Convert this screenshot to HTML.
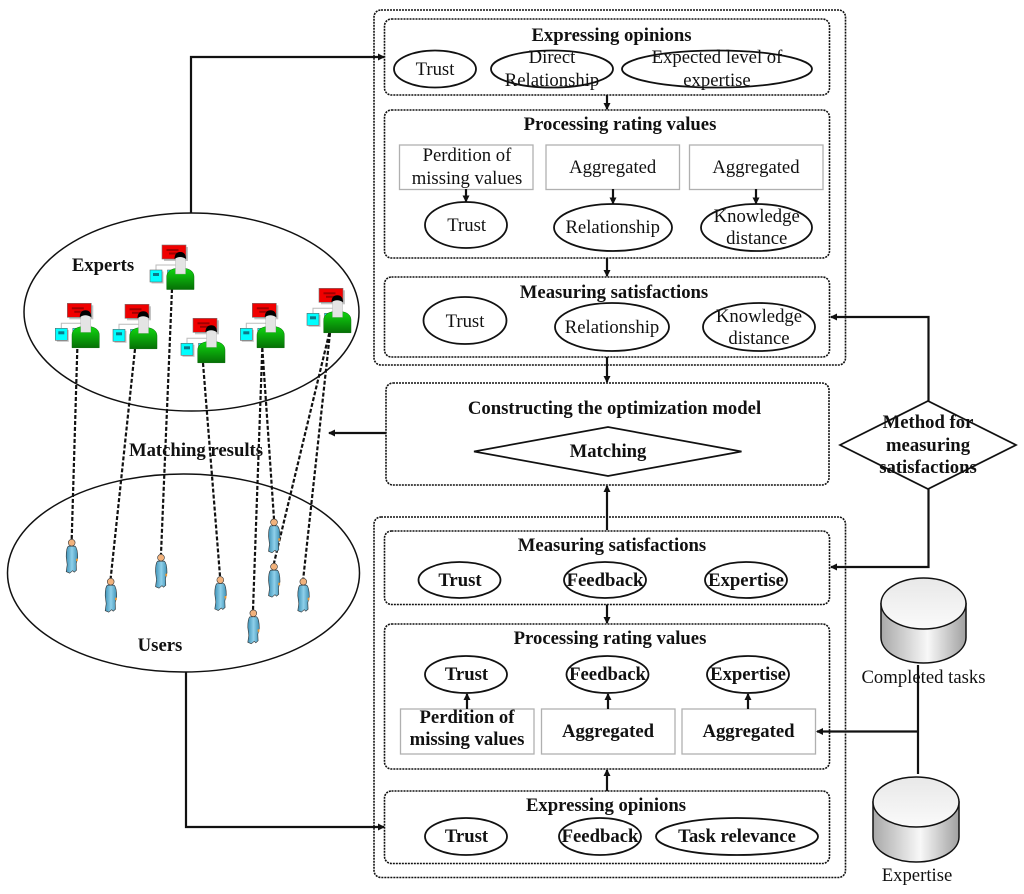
<!DOCTYPE html>
<html><head><meta charset="utf-8"><style>
html,body{margin:0;padding:0;background:#fff}
svg{display:block}
text{font-family:"Liberation Serif",serif;font-size:18.7px;text-anchor:middle;fill:#111}
.b text,text.b{font-weight:bold}
.d{fill:none;stroke:#111;stroke-width:1.6;stroke-dasharray:2 1}
.e{fill:#fff;stroke:#111;stroke-width:1.8}
.r{fill:#fff;stroke:#b0b0b0;stroke-width:1.3}
.l{fill:none;stroke:#111;stroke-width:2.2}
.dash{fill:none;stroke:#111;stroke-width:2.2;stroke-dasharray:4 2}
</style></head><body>
<svg width="1024" height="894" viewBox="0 0 1024 894" xmlns="http://www.w3.org/2000/svg">
<defs>
<marker id="a" markerWidth="8" markerHeight="8" refX="6" refY="3.5" orient="auto" markerUnits="userSpaceOnUse"><path d="M0 0L7 3.5L0 7Z" fill="#111"/></marker>
<linearGradient id="g" x1="0" y1="0" x2="0" y2="1"><stop offset="0" stop-color="#10d810"/><stop offset="1" stop-color="#067006"/></linearGradient>
<linearGradient id="cy" x1="0" y1="0" x2="1" y2="0"><stop offset="0" stop-color="#a8a8a8"/><stop offset=".55" stop-color="#f8f8f8"/><stop offset="1" stop-color="#a0a0a0"/></linearGradient>
<linearGradient id="ct" x1="0" y1="0" x2="0" y2="1"><stop offset="0" stop-color="#e8e8e8"/><stop offset="1" stop-color="#fafafa"/></linearGradient>
<linearGradient id="u" x1="0" y1="0" x2="1" y2="0"><stop offset="0" stop-color="#3f93b8"/><stop offset=".5" stop-color="#8fd0ea"/><stop offset="1" stop-color="#3f93b8"/></linearGradient>
<g id="ex">
<rect x="2" y="2" width="24" height="14" fill="#c4c4c4"/>
<rect x="0" y="0" width="24" height="14" fill="#f00000" stroke="#777" stroke-width=".6"/>
<rect x="4.500" y="4" width="12" height="2" fill="#a00000"/><rect x="7" y="7.500" width="10" height="2" fill="#a00000"/>
<path d="M-6 25V20H14" fill="none" stroke="#bbb" stroke-width="1"/>
<rect x="-10.500" y="26.500" width="12" height="12" fill="#c4c4c4"/>
<rect x="-12" y="25" width="12" height="12" fill="#00ffff" stroke="#666" stroke-width=".6"/><rect x="-9" y="28" width="6" height="3" fill="#0a7a8a"/>
<rect x="5.500" y="25" width="8" height="12" fill="#00ffff" stroke="#666" stroke-width=".6"/>
<path d="M4.700 44.500V32C4.700 26 10 23 18.500 23S32 26 32 32V44.500Z" fill="url(#g)" stroke="#0a6a0a" stroke-width=".5"/>
<rect x="13.500" y="11" width="10" height="18" fill="#e4e4e4" stroke="#aaa" stroke-width=".4"/>
<path d="M12.500 14C12.500 9 15 7 18.300 7S24 9 24 14Q18 10 12.500 14Z" fill="#000"/>
</g>
<g id="us">
<path d="M-3.500 3.500C-5 5-5.500 8-5.500 14L-4.500 22L-5.500 29L-2 30.500L1 28L2.500 29.500L4.800 27.500L4.500 21L6 15C6 8 5 5 3.500 3.500Z" fill="url(#u)" stroke="#333" stroke-width=".6"/>
<circle cx="0" cy="0" r="3.400" fill="#f2b27c" stroke="#333" stroke-width=".6"/>
<rect x="4.300" y="16" width="1.800" height="2.500" fill="#ee9933"/>
</g>
</defs>

<!-- big ellipses -->
<ellipse cx="191.500" cy="312" rx="167.500" ry="99" fill="#fff" stroke="#111" stroke-width="1.5"/>
<ellipse cx="183.500" cy="573" rx="176" ry="99" fill="#fff" stroke="#111" stroke-width="1.5"/>

<!-- dashed links -->
<path class="dash" d="M77.300 349L71.700 539M135 349L110.700 578M172 289L161 554M203 363L220 576M262.300 348L253 610M262.300 348L274 519M329.300 333L274 563M330 333L303.300 578"/>

<!-- experts -->
<use href="#ex" x="162" y="245"/><use href="#ex" x="67.300" y="303.300"/><use href="#ex" x="125" y="304.300"/><use href="#ex" x="193" y="318.300"/><use href="#ex" x="252.300" y="303.300"/><use href="#ex" x="319" y="288.300"/>
<!-- users -->
<use href="#us" x="71.700" y="542.700"/><use href="#us" x="110.700" y="581.700"/><use href="#us" x="161" y="557.700"/><use href="#us" x="220.300" y="580"/><use href="#us" x="253.300" y="613.300"/><use href="#us" x="274" y="522.300"/><use href="#us" x="274" y="566.700"/><use href="#us" x="303.300" y="581.700"/>

<g class="b">
<text x="103" y="271">Experts</text>
<text x="196" y="456">Matching results</text>
<text x="160" y="651">Users</text>
</g>

<!-- outer connectors -->
<path class="l" d="M191 213V57H384" marker-end="url(#a)"/>
<path class="l" d="M386 433H329" marker-end="url(#a)"/>
<path class="l" d="M186 672V827H384" marker-end="url(#a)"/>

<!-- containers -->
<rect class="d" x="374" y="10" width="471.500" height="355" rx="7"/>
<rect class="d" x="374" y="517" width="471.500" height="360.500" rx="7"/>
<rect class="d" x="384.500" y="19" width="445" height="76" rx="7"/>
<rect class="d" x="384.500" y="110" width="445" height="148" rx="7"/>
<rect class="d" x="384.500" y="277" width="445" height="80" rx="7"/>
<rect class="d" x="386" y="383" width="443" height="102" rx="7"/>
<rect class="d" x="384.500" y="531" width="445" height="73.500" rx="7"/>
<rect class="d" x="384.500" y="624" width="445" height="145" rx="7"/>
<rect class="d" x="384.500" y="791" width="445" height="72.500" rx="7"/>

<!-- top section -->
<text class="b" x="611.500" y="41">Expressing opinions</text>
<ellipse class="e" cx="435" cy="69" rx="41" ry="18.500"/><text x="435" y="75">Trust</text>
<ellipse class="e" cx="552" cy="69" rx="61" ry="18.500"/><text x="552" y="63">Direct</text><text x="552" y="86">Relationship</text>
<ellipse class="e" cx="717" cy="69" rx="95" ry="18.500"/><text x="717" y="63">Expected level of</text><text x="717" y="86">expertise</text>

<path class="l" d="M607 95V109" marker-end="url(#a)"/>
<text class="b" x="620" y="130">Processing rating values</text>
<rect class="r" x="399.500" y="145" width="133.500" height="44.500"/><rect class="r" x="546" y="145" width="133.500" height="44.500"/><rect class="r" x="689.500" y="145" width="133.500" height="44.500"/>
<text x="467" y="161">Perdition of</text><text x="467" y="184">missing values</text>
<text x="612.700" y="173">Aggregated</text><text x="756" y="173">Aggregated</text>
<path class="l" d="M466 189V201.500" marker-end="url(#a)"/><path class="l" d="M613 189V203.500" marker-end="url(#a)"/><path class="l" d="M756 189V203.500" marker-end="url(#a)"/>
<ellipse class="e" cx="466" cy="225" rx="41" ry="23"/><text x="466.700" y="231">Trust</text>
<ellipse class="e" cx="613" cy="227.500" rx="59" ry="23.500"/><text x="612.700" y="233">Relationship</text>
<ellipse class="e" cx="756.500" cy="227.500" rx="55.500" ry="23.500"/><text x="756.700" y="222">Knowledge</text><text x="756.700" y="244">distance</text>

<path class="l" d="M607 258V276" marker-end="url(#a)"/>
<text class="b" x="614" y="298">Measuring satisfactions</text>
<ellipse class="e" cx="465" cy="320.500" rx="41.500" ry="23.500"/><text x="465" y="327">Trust</text>
<ellipse class="e" cx="612" cy="327" rx="57" ry="24"/><text x="612" y="333">Relationship</text>
<ellipse class="e" cx="759" cy="327" rx="56" ry="24"/><text x="759" y="322">Knowledge</text><text x="759" y="344">distance</text>

<path class="l" d="M607 357V382" marker-end="url(#a)"/>
<!-- middle -->
<text class="b" x="614.500" y="414">Constructing the optimization model</text>
<polygon points="474,451.500 608,427 741.500,451.500 608,476" fill="#fff" stroke="#111" stroke-width="1.7"/>
<text class="b" x="608" y="457">Matching</text>
<path class="l" d="M607 530V486" marker-end="url(#a)"/>

<!-- method diamond -->
<path class="l" d="M928.500 401V317H831" marker-end="url(#a)"/>
<path class="l" d="M928.500 489V567H831" marker-end="url(#a)"/>
<polygon points="840,445 928,401 1016,445 928,489" fill="#fff" stroke="#111" stroke-width="1.7"/>
<g class="b"><text x="928" y="428">Method for</text><text x="928" y="451">measuring</text><text x="928" y="473">satisfactions</text></g>

<!-- lower section -->
<g class="b">
<text x="612" y="551">Measuring satisfactions</text>
<ellipse class="e" cx="459.500" cy="580" rx="41" ry="18"/><text x="460" y="586">Trust</text>
<ellipse class="e" cx="605" cy="580" rx="41" ry="18"/><text x="605" y="586">Feedback</text>
<ellipse class="e" cx="746" cy="580" rx="41" ry="18"/><text x="746" y="586">Expertise</text>

<path class="l" d="M607 604.500V623" marker-end="url(#a)"/>
<text x="610" y="644">Processing rating values</text>
<ellipse class="e" cx="466" cy="674.500" rx="41" ry="18.500"/><text x="466.500" y="680">Trust</text>
<ellipse class="e" cx="607.500" cy="674.500" rx="41" ry="18.500"/><text x="607.500" y="680">Feedback</text>
<ellipse class="e" cx="748" cy="674.500" rx="41" ry="18.500"/><text x="748" y="680">Expertise</text>
<rect class="r" x="400.500" y="709" width="133.500" height="45"/><rect class="r" x="541.500" y="709" width="133.500" height="45"/><rect class="r" x="682" y="709" width="133.500" height="45"/>
<text x="467" y="723">Perdition of</text><text x="467" y="745">missing values</text>
<text x="608" y="737">Aggregated</text><text x="748.500" y="737">Aggregated</text>
<path class="l" d="M467 709V694" marker-end="url(#a)"/><path class="l" d="M608 709V694" marker-end="url(#a)"/><path class="l" d="M748 709V694" marker-end="url(#a)"/>
<path class="l" d="M607 791V770" marker-end="url(#a)"/>
<text x="606" y="811">Expressing opinions</text>
<ellipse class="e" cx="466" cy="836.500" rx="41" ry="18.500"/><text x="466.500" y="842">Trust</text>
<ellipse class="e" cx="600" cy="836.500" rx="41" ry="18.500"/><text x="600" y="842">Feedback</text>
<ellipse class="e" cx="737" cy="836.500" rx="81" ry="18.500"/><text x="737" y="842">Task relevance</text>
</g>

<!-- cylinders -->
<path d="M881 603.500V637.500A42.500 25.500 0 0 0 966 637.500V603.500Z" fill="url(#cy)" stroke="#111" stroke-width="1.5"/>
<ellipse cx="923.500" cy="603.500" rx="42.500" ry="25.500" fill="url(#ct)" stroke="#111" stroke-width="1.5"/>
<path d="M873 802V837A43 25 0 0 0 959 837V802Z" fill="url(#cy)" stroke="#111" stroke-width="1.5"/>
<ellipse cx="916" cy="802" rx="43" ry="25" fill="url(#ct)" stroke="#111" stroke-width="1.5"/>
<text x="923.500" y="683">Completed tasks</text>
<text x="917" y="881">Expertise</text>
<path class="l" d="M918 665V774"/>
<path class="l" d="M918 731.500H817" marker-end="url(#a)"/>
</svg>
</body></html>
